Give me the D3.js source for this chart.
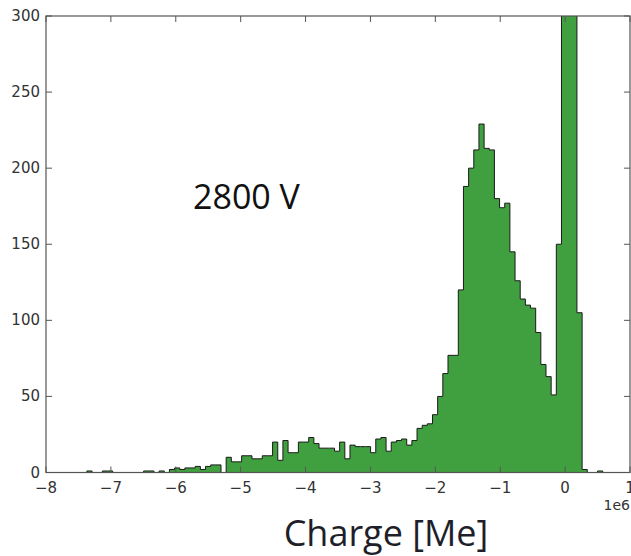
<!DOCTYPE html>
<html>
<head>
<meta charset="utf-8">
<script src="https://cdn.jsdelivr.net/npm/d3@7"></script>
<style>
  body { margin: 0; background: white; }
  svg { display: block; }
</style>
</head>
<body>
<div id="chart"></div>
<script>
// Histogram of charge (units of 1e6 e), 100 bins from binMin to binMax
const binMin = -7.37;
const binMax = 0.58;
const counts = [
  1, 0, 0, 1, 1, 0, 0, 0, 0, 0,
  0, 1, 1, 0, 1, 0, 2, 3, 2, 3,
  3, 4, 2, 4, 5, 5, 0, 10, 7, 7,
  11, 11, 9, 9, 11, 11, 20, 8, 21, 13,
  13, 20, 20, 23, 19, 16, 16, 16, 14, 20,
  9, 18, 17, 17, 17, 13, 22, 23, 14, 20,
  21, 22, 18, 21, 29, 31, 32, 38, 50, 65,
  77, 77, 120, 188, 200, 212, 229, 213, 212, 180,
  174, 177, 145, 126, 114, 110, 108, 92, 71, 63,
  51, 150, 420, 600, 480, 105, 2, 0, 0, 1
];
const xTicks = [-8, -7, -6, -5, -4, -3, -2, -1, 0, 1];
const yTicks = [0, 50, 100, 150, 200, 250, 300];

const width = 631, height = 556;
const plot = { left: 46, right: 630, top: 16, bottom: 472.5 };

const svg = d3.select("#chart").append("svg")
    .attr("width", width).attr("height", height);

const x = d3.scaleLinear().domain([-8, 1]).range([plot.left, plot.right]);
const y = d3.scaleLinear().domain([0, 300]).range([plot.bottom, plot.top]);

// bin edges
const step = (binMax - binMin) / counts.length;
const pts = [];
counts.forEach((c, i) => {
    pts.push([binMin + i * step, c]);
    pts.push([binMin + (i + 1) * step, c]);
});

svg.append("clipPath").attr("id", "clip")
  .append("rect")
    .attr("x", plot.left).attr("y", plot.top)
    .attr("width", plot.right - plot.left).attr("height", plot.bottom - plot.top);

const area = d3.area()
    .x(d => x(d[0])).y0(y(0)).y1(d => y(d[1]));
const line = d3.line()
    .x(d => x(d[0])).y(d => y(d[1]));

const g = svg.append("g").attr("clip-path", "url(#clip)");
g.append("path").datum(pts)
    .attr("d", area)
    .attr("fill", "#40a040");
g.append("path").datum([[binMin, 0]].concat(pts, [[binMax, 0]]))
    .attr("d", line)
    .attr("fill", "none")
    .attr("stroke", "#1a1a1a")
    .attr("stroke-width", 1);

// frame
svg.append("rect")
    .attr("x", plot.left).attr("y", plot.top)
    .attr("width", plot.right - plot.left).attr("height", plot.bottom - plot.top)
    .attr("fill", "none").attr("stroke", "#555").attr("stroke-width", 1.2);

const tickLen = 6;
const tickFont = "DejaVu Sans, sans-serif";

// x ticks (inward, top and bottom)
xTicks.forEach(t => {
    const px = x(t);
    svg.append("line").attr("x1", px).attr("x2", px)
        .attr("y1", plot.bottom).attr("y2", plot.bottom - tickLen)
        .attr("stroke", "#555");
    svg.append("line").attr("x1", px).attr("x2", px)
        .attr("y1", plot.top).attr("y2", plot.top + tickLen)
        .attr("stroke", "#555");
    svg.append("text")
        .attr("x", px).attr("y", 493)
        .attr("text-anchor", "middle")
        .attr("font-family", tickFont).attr("font-size", 15)
        .attr("fill", "#333")
        .text(t < 0 ? "\u2212" + Math.abs(t) : t);
});

// y ticks (inward, left and right)
yTicks.forEach(t => {
    const py = y(t);
    svg.append("line").attr("x1", plot.left).attr("x2", plot.left + tickLen)
        .attr("y1", py).attr("y2", py).attr("stroke", "#555");
    svg.append("line").attr("x1", plot.right).attr("x2", plot.right - tickLen)
        .attr("y1", py).attr("y2", py).attr("stroke", "#555");
    svg.append("text")
        .attr("x", 40).attr("y", py + 5)
        .attr("text-anchor", "end")
        .attr("font-family", tickFont).attr("font-size", 15)
        .attr("fill", "#333")
        .text(t);
});

// offset label
svg.append("text")
    .attr("x", 630).attr("y", 510)
    .attr("text-anchor", "end")
    .attr("font-family", tickFont).attr("font-size", 14)
    .attr("fill", "#333")
    .text("1e6");

// axis label
svg.append("text")
    .attr("x", 386).attr("y", 546)
    .attr("text-anchor", "middle")
    .attr("font-family", "Open Sans, sans-serif").attr("font-size", 36)
    .attr("fill", "#1f1f2a")
    .text("Charge [Me]");

// annotation
svg.append("text")
    .attr("x", 193).attr("y", 209)
    .attr("font-family", "Open Sans, sans-serif").attr("font-size", 34)
    .attr("fill", "#111")
    .text("2800 V");
</script>
</body>
</html>
